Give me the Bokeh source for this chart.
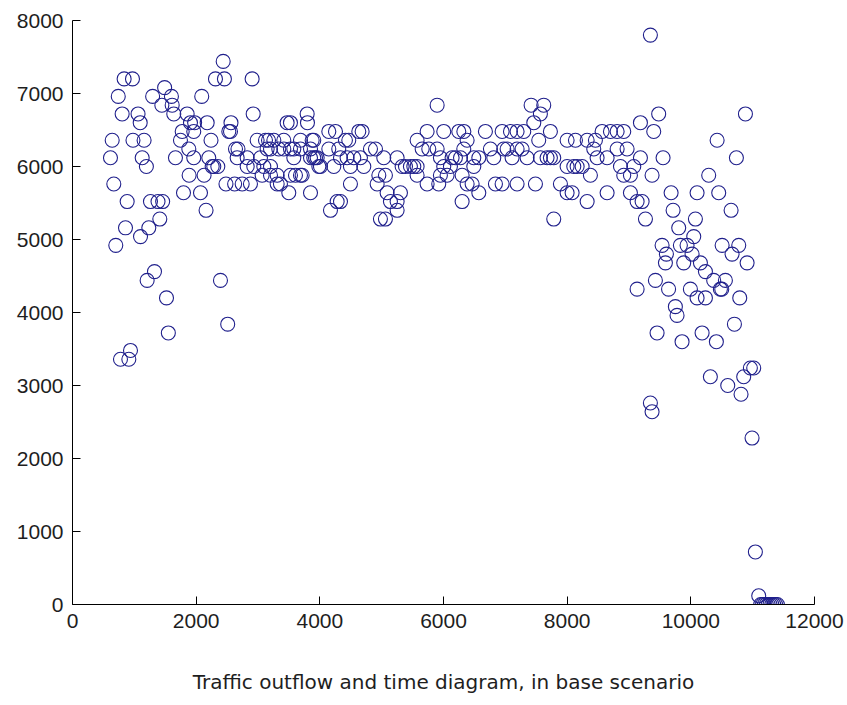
from bokeh.plotting import figure
from bokeh.embed import file_html
from bokeh.resources import INLINE
from bokeh.models import FixedTicker

# time (s) of each observation
time_s = [
    614, 642, 668, 700, 740, 776, 803, 835, 884, 857, 911, 938, 970, 978, 1060, 1095, 1100,
    1127, 1158, 1195, 1207, 1234, 1261, 1296, 1326, 1383, 1412, 1445, 1458, 1490, 1520, 1550,
    1600, 1612, 1638, 1665, 1746, 1774, 1795, 1854, 1881, 1886, 1908, 1961, 1961, 1975, 2070,
    2090, 2128, 2160, 2178, 2204, 2240, 2259, 2285, 2312, 2350, 2393, 2437, 2457, 2482, 2510,
    2528, 2555, 2563, 2622, 2636, 2663, 2676, 2744, 2825, 2825, 2878, 2905, 2922, 2932, 2986,
    3040, 3067, 3094, 3121, 3148, 3170, 3202, 3202,
    3202, 3256, 3310, 3310, 3336, 3363, 3417, 3417, 3471, 3525, 3498, 3525, 3525, 3579, 3579,
    3606, 3687, 3687, 3687, 3714, 3795, 3800, 3849, 3849, 3849, 3876, 3902, 3902, 3930, 3957,
    3984, 4010, 4145, 4145, 4172, 4226, 4253, 4280, 4306, 4334, 4334, 4414, 4441, 4468, 4495,
    4495, 4549, 4630, 4657, 4684, 4711, 4819, 4900, 4927, 4954, 4980, 5034, 5061, 5061, 5088,
    5142, 5250, 5250, 5250, 5304, 5331, 5385, 5465, 5520, 5573, 5573, 5573, 5655, 5735, 5735,
    5762, 5897, 5897, 5923, 5950, 5950, 6004, 6004, 6058, 6112, 6139, 6193, 6247, 6301, 6301,
    6328,
    6329, 6382, 6275, 6463, 6490, 6490, 6571, 6382, 6571, 6678, 6759, 6813, 6840, 6948, 6948,
    6974, 7029, 7083, 7109, 7190, 7190, 7190, 7271, 7298, 7352, 7417, 7460, 7487, 7540, 7567,
    7567, 7621, 7675, 7729, 7729, 7783, 7783, 7891, 7999, 7999, 7999, 8080, 8107, 8134, 8161,
    8242, 8323, 8323, 8376, 8430, 8457, 8484, 8565, 8646, 8646, 8700, 8808, 8808, 8862, 8915,
    8915, 8969, 9023, 9023, 9077, 9131, 9131, 9185, 9185, 9212, 9266, 9346, 9373,
    9346, 9373, 9400, 9427, 9454, 9480, 9551, 9535, 9589, 9605, 9640, 9681, 9713, 9750, 9777,
    9804, 9831, 9858, 9885, 9939, 9993, 10020, 10047, 10074, 10101, 10101, 10155, 10182, 10236,
    10236, 10289, 10316, 10370, 10413, 10425, 10451, 10478, 10500, 10506, 10559, 10597, 10651,
    10667, 10705, 10737, 10775, 10791, 10812, 10855, 10883, 10910, 10963, 10990, 11017, 11044,
    11098, 11130, 11160, 11190, 11220, 11250, 11280, 11310, 11340, 11370, 11400,
]

# traffic outflow (veh/h)
outflow = [
    6120, 6360, 5760, 4920, 6960, 3360, 6720, 7200, 5520, 5160, 3360, 3480, 7200, 6360, 6720, 6600, 5040,
    6120, 6360, 6000, 4440, 5160, 5520, 6960, 4560, 5520, 5280, 6840, 5520, 7080, 4200, 3720,
    6960, 6840, 6720, 6120, 6360, 6480, 5640, 6720, 6240, 5880, 6600, 6480, 6120, 6600, 5640,
    6960, 5880, 5400, 6600, 6120, 6360, 6000, 6000, 7200, 6000, 4440, 7440, 7200, 5760, 3840,
    6480, 6480, 6600, 5760, 6240, 6120, 6240, 5760, 6120, 6000, 5760, 7200, 6720, 6000, 6360,
    6120, 5880, 6000, 6360, 6240, 6360, 5880, 6240,
    6000, 6360, 5880, 5760, 6240, 5760, 6360, 6240, 6600, 6600, 5640, 5880, 6240, 6240, 6120,
    5880, 5880, 6360, 6240, 5880, 6720, 6600, 6240, 5640, 6120, 6360, 6360, 6120, 6120, 6120,
    6000, 6000, 6240, 6480, 5400, 6000, 6480, 5520, 6240, 6120, 5520, 6360, 6120, 6360, 6000,
    5760, 6120, 6480, 6120, 6480, 6000, 6240, 6240, 5760, 5880, 5280, 6120, 5880, 5280, 5640,
    5520, 6120, 5520, 5400, 5640, 6000, 6000, 6000, 6000, 6000, 6360, 5880, 6240, 6480, 5760,
    6240, 6840, 6240, 5760, 6120, 5880, 6480, 6000, 5880, 6000, 6120, 6120, 6480, 5880, 5520,
    6240,
    6480, 6360, 6120, 5760, 6120, 6000, 6120, 5760, 5640, 6480, 6240, 6120, 5760, 6480, 5760,
    6240, 6240, 6480, 6120, 6240, 6480, 5760, 6240, 6480, 6120, 6840, 6600, 5760, 6360, 6720,
    6120, 6840, 6120, 6480, 6120, 6120, 5280, 5760, 6360, 6000, 5640, 5640, 6000, 6360, 6000,
    6000, 6360, 5520, 5880, 6240, 6360, 6120, 6480, 6120, 5640, 6480, 6480, 6240, 6000, 6480,
    5880, 6240, 5880, 5640, 6000, 5520, 4320, 6600, 6120, 5520, 5280, 7800, 5880,
    2760, 2640, 6480, 4440, 3720, 6720, 6120, 4920, 4680, 4800, 4320, 5640, 5400, 4080, 3960,
    5160, 4920, 3600, 4680, 4920, 4320, 4800, 5040, 5280, 5640, 4200, 4680, 3720, 4560,
    4200, 5880, 3120, 4440, 3600, 6360, 5640, 4320, 4320, 4920, 4440, 3000, 5400,
    4800, 3840, 6120, 4920, 4200, 2880, 3120, 6720, 4680, 3240, 2280, 3240, 720,
    120, 0, 0, 0, 0, 0, 0, 0, 0, 0, 0,
]

x_ticks = [0, 2000, 4000, 6000, 8000, 10000, 12000]
y_ticks = [0, 1000, 2000, 3000, 4000, 5000, 6000, 7000, 8000]
caption = "Traffic outflow and time diagram, in base scenario"

p = figure(width=847, height=705, x_range=(0, 12000), y_range=(0, 8000),
           output_backend="svg", toolbar_location=None,
           min_border_left=72, min_border_right=33, min_border_top=20, min_border_bottom=101)

p.scatter(time_s, outflow, marker="circle", size=14, fill_color=None,
          line_color="#20208c", line_width=1.1)

p.grid.visible = False
p.outline_line_color = None
p.background_fill_color = "white"
p.border_fill_color = "white"

for ax in (p.xaxis[0], p.yaxis[0]):
    ax.axis_line_color = "black"
    ax.major_tick_line_color = "black"
    ax.major_tick_in = 8
    ax.major_tick_out = 0
    ax.minor_tick_line_color = None
    ax.major_label_text_font = "Liberation Sans"
    ax.major_label_text_font_size = "21px"
    ax.major_label_text_color = "#1e1e1e"

p.xaxis.ticker = FixedTicker(ticks=x_ticks)
p.yaxis.ticker = FixedTicker(ticks=y_ticks)
p.xaxis.major_label_standoff = 9
p.yaxis.major_label_standoff = 9

p.xaxis.axis_label = caption
p.xaxis.axis_label_text_font = "DejaVu Sans"
p.xaxis.axis_label_text_font_style = "normal"
p.xaxis.axis_label_text_font_size = "20px"
p.xaxis.axis_label_text_color = "#1e1e1e"
p.xaxis.axis_label_standoff = 39

open("out.html", "w").write(file_html(p, INLINE))
